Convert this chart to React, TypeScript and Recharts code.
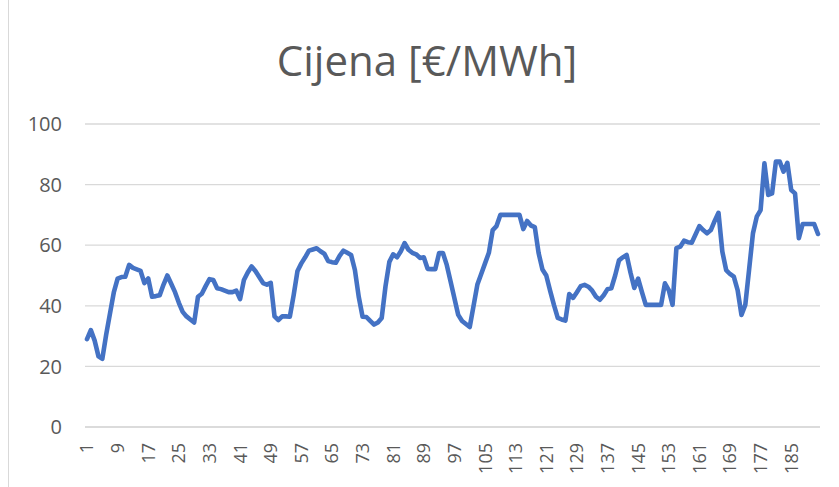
import React from 'react';
import { LineChart, Line, XAxis, YAxis, CartesianGrid } from 'recharts';

// hourly price, 8 days x 24 h
const prices: number[] = [
  29, 32, 28.5, 23.3, 22.5, 30.4, 37.4, 44.4, 49, 49.5, 49.6, 53.5,
  52.5, 52, 51.5, 47.5, 49, 43, 43.2, 43.5, 47, 50, 47.3, 44.5,
  41, 38, 36.5, 35.5, 34.5, 43, 44, 46.5, 48.8, 48.5, 45.8, 45.5,
  45, 44.5, 44.5, 45, 42.2, 48.5, 51, 53, 51.5, 49.5, 47.5, 47,
  47.6, 36.5, 35.3, 36.5, 36.5, 36.4, 43.5, 51.5, 54, 56, 58.2, 58.6,
  59, 58, 57.2, 54.8, 54.4, 54.2, 56.5, 58.2, 57.5, 56.8, 51.8, 43,
  36.4, 36.3, 35, 33.8, 34.5, 36, 46.5, 54.5, 57, 56, 58, 60.7,
  58.5, 57.5, 57, 55.8, 56, 52.2, 52.1, 52.1, 57.4, 57.4, 53.5, 48,
  42.5, 37, 35, 34, 33, 40, 47, 50.5, 54, 57.5, 65, 66.3,
  70, 70, 70, 70, 70, 70, 65.3, 68, 66.5, 66, 57.4, 52,
  50, 45, 40.3, 36, 35.5, 35.1, 43.9, 42.6, 44.5, 46.5, 46.9, 46.3,
  45, 43, 42, 43.5, 45.5, 45.8, 50, 55, 56, 56.8, 51, 45.9,
  49, 44.5, 40.3, 40.3, 40.3, 40.3, 40.3, 47.4, 45.2, 40.3, 59, 59.5,
  61.5, 61, 60.8, 63.5, 66.3, 65, 63.9, 65, 68, 70.7, 57.9, 51.8,
  50.5, 49.6, 45.2, 37, 40.3, 52, 63.9, 69.4, 71.6, 87, 76.6, 77.1,
  87.6, 87.6, 84.3, 87.2, 78.2, 77.1, 62.3, 67, 67, 67, 67, 63.7,
];
const hours: string[] = prices.map((_, i) => String(i + 1));
const yTicks = [0, 20, 40, 60, 80, 100];

const data = hours.map((h, i) => ({ hour: h, price: prices[i] }));

const XTick = (props: any) => {
  const { x, y, payload } = props;
  return (
    <g transform={`translate(${x},${y})`}>
      <text
        transform="rotate(-90)"
        textAnchor="end"
        dy="0.36em"
        fill="#595959"
        fontSize={18}
        fontFamily="'Open Sans', sans-serif"
      >
        {payload.value}
      </text>
    </g>
  );
};

export default function App() {
  return (
    <div style={{ position: 'absolute', left: 0, top: 0, width: 839, height: 487, background: '#fff', overflow: 'hidden' }}>
      <div style={{ position: 'absolute', left: 8, top: 0, width: 1, height: 487, background: '#d9d9d9' }} />
      <svg width={839} height={100} style={{ position: 'absolute', left: 0, top: 0 }}>
        <text
          x={427}
          y={76}
          textAnchor="middle"
          fill="#595959"
          fontSize={42}
          fontFamily="'Open Sans', sans-serif"
        >
          Cijena [€/MWh]
        </text>
      </svg>
      <div style={{ position: 'absolute', left: 0, top: 0 }}>
        <LineChart
          width={839}
          height={487}
          data={data}
          margin={{ top: 124, right: 19, bottom: 0, left: 0 }}
        >
          <CartesianGrid vertical={false} stroke="#d9d9d9" strokeWidth={1.3} />
          <XAxis
            dataKey="hour"
            interval={7}
            height={60}
            tickLine={false}
            tickSize={0}
            tickMargin={16}
            stroke="#d9d9d9"
            strokeWidth={1.3}
            padding={{ left: 2, right: 2 }}
            tick={<XTick />}
          />
          <YAxis
            domain={[0, 100]}
            ticks={yTicks}
            width={85}
            axisLine={false}
            tickLine={false}
            tickSize={0}
            tickMargin={23}
            tick={{ fill: '#595959', fontSize: 20, fontFamily: "'Open Sans', sans-serif" }}
          />
          <Line
            type="linear"
            dataKey="price"
            stroke="#4472C4"
            strokeWidth={4.6}
            strokeLinejoin="round"
            strokeLinecap="round"
            dot={false}
            activeDot={false}
            isAnimationActive={false}
          />
        </LineChart>
      </div>
    </div>
  );
}
